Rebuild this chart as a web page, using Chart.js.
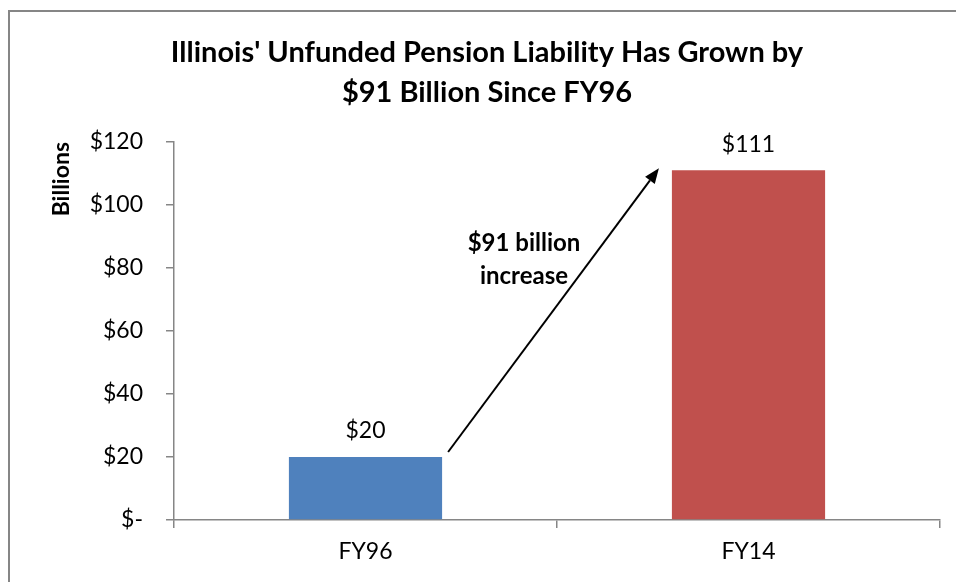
<!DOCTYPE html>
<html>
<head>
<meta charset="utf-8">
<script src="https://cdn.jsdelivr.net/npm/chart.js@4.4.1/dist/chart.umd.min.js"></script>
<style>
  html, body { margin: 0; padding: 0; background: #ffffff; }
  #wrap { width: 956px; height: 582px; }
</style>
</head>
<body>
<div id="wrap"><canvas id="c" width="956" height="582"></canvas></div>
<script>
const titleLines = ["Illinois' Unfunded Pension Liability Has Grown by", "$91 Billion Since FY96"];
const categories = ["FY96", "FY14"];
const liabilityBillions = [20, 111];
const barColors = ["#4F81BD", "#C0504D"];
const yAxisTitle = "Billions";
const yTickMin = 0;
const yTickMax = 120;
const yTickStep = 20;
const annotationLines = ["$91 billion", "increase"];
const annotationValues = [88, 77.5];

const FONT = "Lato, 'Open Sans', sans-serif";
const AXIS_GRAY = "#868686";

const extras = {
  id: "extras",
  beforeDraw(chart) {
    const ctx = chart.ctx;
    ctx.save();
    ctx.fillStyle = "#ffffff";
    ctx.fillRect(0, 0, chart.width, chart.height);
    ctx.strokeStyle = AXIS_GRAY;
    ctx.lineWidth = 2;
    ctx.beginPath();
    ctx.moveTo(9, chart.height);
    ctx.lineTo(9, 11);
    ctx.lineTo(chart.width, 11);
    ctx.stroke();
    ctx.restore();
  },
  afterDraw(chart) {
    const ctx = chart.ctx;
    const xs = chart.scales.x, ys = chart.scales.y;
    const meta = chart.getDatasetMeta(0);
    ctx.save();
    // title
    ctx.fillStyle = "#000000";
    ctx.textAlign = "center";
    ctx.textBaseline = "alphabetic";
    ctx.font = "bold 29px " + FONT;
    const tx = 487;
    ctx.fillText(titleLines[0], tx, 62);
    ctx.fillText(titleLines[1], tx, 102);
    // data labels
    ctx.font = "23px " + FONT;
    ctx.textBaseline = "middle";
    meta.data.forEach((bar, i) => {
      ctx.fillText("$" + liabilityBillions[i], bar.x, bar.y - 26);
    });
    // arrow
    const b0 = meta.data[0], b1 = meta.data[1];
    const sx = b0.x + b0.width / 2 + 6, sy = b0.y - 5;
    const ex = b1.x - b1.width / 2 - 13, ey = b1.y - 2;
    const ang = Math.atan2(ey - sy, ex - sx);
    const headLen = 15, headW = 6;
    const bx = ex - headLen * Math.cos(ang), by = ey - headLen * Math.sin(ang);
    ctx.strokeStyle = "#000000";
    ctx.lineWidth = 2;
    ctx.beginPath();
    ctx.moveTo(sx, sy);
    ctx.lineTo(bx, by);
    ctx.stroke();
    ctx.fillStyle = "#000000";
    ctx.beginPath();
    ctx.moveTo(ex, ey);
    ctx.lineTo(bx + headW * Math.sin(ang), by - headW * Math.cos(ang));
    ctx.lineTo(bx - headW * Math.sin(ang), by + headW * Math.cos(ang));
    ctx.closePath();
    ctx.fill();
    // annotation text
    ctx.font = "bold 24px " + FONT;
    ctx.textAlign = "center";
    ctx.textBaseline = "middle";
    const ax = xs.getPixelForValue(0.5) - 33;
    annotationLines.forEach((t, i) => {
      ctx.fillText(t, ax, ys.getPixelForValue(annotationValues[i]));
    });
    ctx.restore();
  }
};

new Chart(document.getElementById("c"), {
  type: "bar",
  data: {
    labels: categories,
    datasets: [{
      data: liabilityBillions,
      backgroundColor: barColors,
      borderWidth: 0,
      barPercentage: 0.4,
      categoryPercentage: 1.0
    }]
  },
  options: {
    responsive: false,
    animation: false,
    devicePixelRatio: 1,
    layout: { padding: { left: 10, top: 142, right: 16, bottom: 0 } },
    plugins: {
      legend: { display: false },
      title: { display: false },
      tooltip: { enabled: false }
    },
    scales: {
      x: {
        afterFit(scale) { scale.height = 62; },
        border: { display: true, color: AXIS_GRAY, width: 1.5 },
        grid: { display: true, drawOnChartArea: false, drawTicks: true, tickLength: 8, color: AXIS_GRAY, lineWidth: 1.5, offset: true },
        ticks: { color: "#000000", font: { family: FONT, size: 23 }, padding: 10 }
      },
      y: {
        min: yTickMin,
        max: yTickMax,
        afterFit(scale) { scale.width = 164; },
        border: { display: true, color: AXIS_GRAY, width: 1.5 },
        grid: { display: true, drawOnChartArea: false, drawTicks: true, tickLength: 8, color: AXIS_GRAY, lineWidth: 1.5 },
        ticks: {
          stepSize: yTickStep,
          color: "#000000",
          font: { family: FONT, size: 23 },
          padding: 23,
          callback: (v) => v === 0 ? "$-" : "$" + v
        },
        title: {
          display: true,
          text: yAxisTitle,
          align: "end",
          color: "#000000",
          font: { family: FONT, size: 23, weight: "bold" },
          padding: { top: 38, bottom: 0 }
        }
      }
    }
  },
  plugins: [extras]
});
</script>
</body>
</html>
